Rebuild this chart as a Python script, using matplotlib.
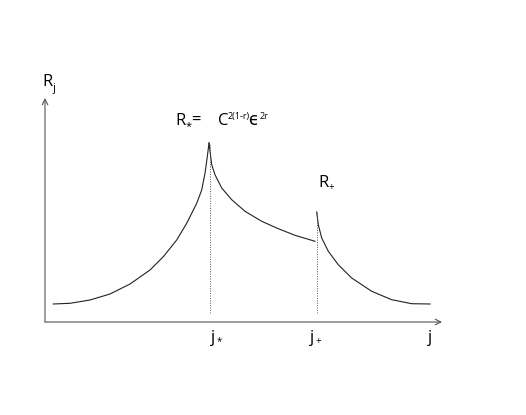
import matplotlib
matplotlib.use("Agg")
import matplotlib.pyplot as plt

plt.rcParams['font.family'] = ['Open Sans', 'DejaVu Sans']

# rising branch up to the first peak (j*)
j_rise = [0.83, 2.5, 4.5, 6.5, 8.5, 10.5, 11.83, 13.17, 14.17, 15.17, 15.67, 16.0, 16.23, 16.4]
R_rise = [1.8, 1.87, 2.2, 2.8, 3.8, 5.2, 6.53, 8.2, 9.87, 11.87, 13.2, 14.87, 16.53, 17.9]

# decay after j* down to j+
j_mid = [16.4, 16.67, 17.0, 17.67, 18.67, 20.0, 21.67, 23.33, 25.0, 27.0]
R_mid = [17.9, 15.73, 14.73, 13.4, 12.23, 11.07, 10.07, 9.33, 8.67, 8.07]

# second peak at j+ and decay
j_fall = [27.17, 27.33, 27.67, 28.33, 29.33, 30.67, 32.67, 34.67, 36.67, 38.5]
R_fall = [11.0, 9.73, 8.4, 7.07, 5.73, 4.4, 3.07, 2.23, 1.83, 1.8]

j_star, R_star = 16.5, 17.9
j_plus, R_plus = 27.2, 11.0
x_end, y_end = 39.7, 22.4

fig = plt.figure(figsize=(5.26, 4.15), dpi=100)
ax = fig.add_axes([45 / 526, 93 / 415, 397 / 526, 224 / 415])
ax.set_xlim(0, x_end)
ax.set_ylim(0, y_end)
ax.set_axis_off()

curve = dict(color='#222222', lw=0.8, solid_joinstyle='round')
ax.plot(j_rise, R_rise, **curve)
ax.plot(j_mid, R_mid, **curve)
ax.plot(j_fall, R_fall, **curve)

dots = dict(color='#555555', lw=0.7, linestyle=(0, (1, 1.5)))
ax.plot([j_star, j_star], [0.9, R_star], **dots)
ax.plot([j_plus, j_plus], [0.9, R_plus], **dots)

arr = dict(arrowstyle='->', color='#555555', lw=0.8, shrinkA=0, shrinkB=0)
ax.annotate('', xy=(x_end, 0), xytext=(0, 0), arrowprops=arr, annotation_clip=False)
ax.annotate('', xy=(0, y_end), xytext=(0, 0), arrowprops=arr, annotation_clip=False)

fs = 12
kw = dict(ha='left', va='baseline', clip_on=False)
ax.text(-0.3, 23.6, 'R', fontsize=fs, **kw)
ax.text(0.75, 23.15, 'j', fontsize=8, **kw)

# R* = C^{2(1-r)} eps^{2r}, built piece by piece to keep it compact
ax.text(13.0, 19.7, 'R', fontsize=fs, **kw)
ax.text(14.05, 19.3, '*', fontsize=8, **kw)
ax.text(14.6, 19.7, '=', fontsize=fs, **kw)
ax.text(17.3, 19.7, 'C', fontsize=fs, **kw)
ax.text(18.3, 20.3, '2(1-r)', fontsize=6.5, **kw)
ax.text(20.35, 19.7, 'ϵ', fontsize=fs, **kw)
ax.text(21.5, 20.3, '2r', fontsize=6.5, **kw)

ax.text(27.3, 13.5, 'R', fontsize=fs, **kw)
ax.text(28.35, 13.2, '+', fontsize=7, **kw)
ax.text(16.6, -2.0, 'j', fontsize=fs, **kw)
ax.text(17.15, -2.2, '*', fontsize=7, **kw)
ax.text(26.5, -2.0, 'j', fontsize=fs, **kw)
ax.text(27.05, -2.2, '+', fontsize=7, **kw)
ax.text(38.3, -2.0, 'j', fontsize=fs, **kw)

fig.savefig('out.png', dpi=100)
